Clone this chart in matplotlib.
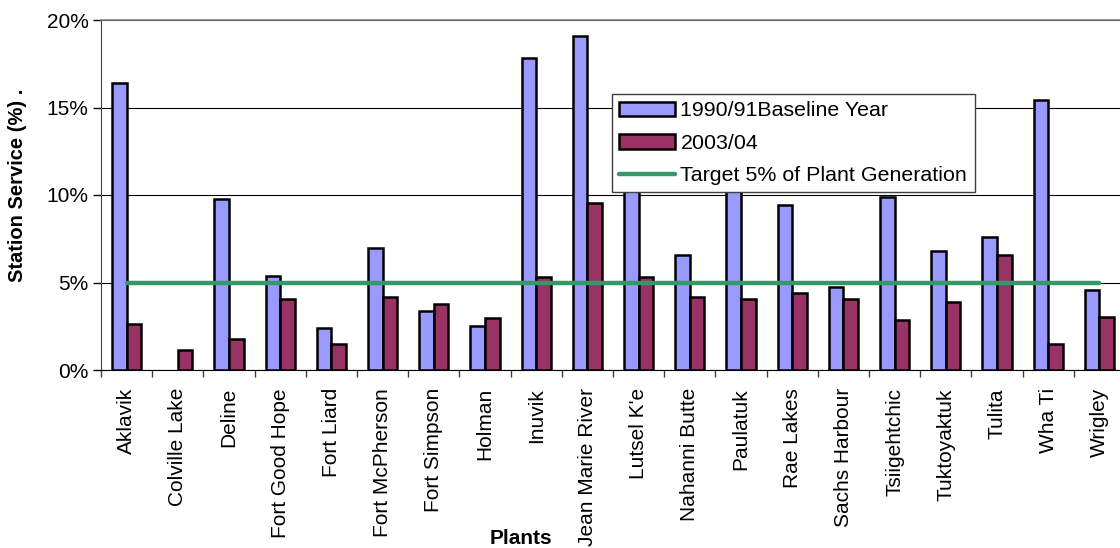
import matplotlib
matplotlib.use("Agg")
import matplotlib.pyplot as plt
import numpy as np
from matplotlib.ticker import FixedLocator, PercentFormatter

plt.rcParams['font.family'] = ['Liberation Sans', 'DejaVu Sans']

plants = ["Aklavik", "Colville Lake", "Deline", "Fort Good Hope", "Fort Liard",
          "Fort McPherson", "Fort Simpson", "Holman", "Inuvik", "Jean Marie River",
          "Lutsel K'e", "Nahanni Butte", "Paulatuk", "Rae Lakes", "Sachs Harbour",
          "Tsiigehtchic", "Tuktoyaktuk", "Tulita", "Wha Ti", "Wrigley"]
# Colville Lake has no baseline-year figure
baseline_1990 = [16.4, np.nan, 9.8, 5.4, 2.4, 7.0, 3.35, 2.5, 17.85, 19.1,
                 11.0, 6.55, 11.5, 9.45, 4.75, 9.9, 6.8, 7.6, 15.45, 4.55]
year_2003 = [2.65, 1.15, 1.75, 4.05, 1.5, 4.15, 3.75, 3.0, 5.3, 9.55,
             5.3, 4.2, 4.05, 4.4, 4.05, 2.85, 3.9, 6.55, 1.5, 3.05]
target = [5.0] * len(plants)

fig = plt.figure(figsize=(11.2, 5.48), dpi=100)
ax = fig.add_axes([101 / 1120, 178 / 548, 1024 / 1120, 350 / 548])

x = np.arange(len(plants))
w = 0.285
b1 = ax.bar(x - w / 2, baseline_1990, width=w, color="#9999FF", edgecolor="black",
            linewidth=1.8, label="1990/91Baseline Year", zorder=3)
b2 = ax.bar(x + w / 2, year_2003, width=w, color="#993366", edgecolor="black",
            linewidth=1.8, label="2003/04", zorder=3)
ln, = ax.plot(x, target, color="#339966", linewidth=3.2, solid_capstyle="round",
              label="Target 5% of Plant Generation", zorder=4)

ax.set_xlim(-0.5, len(plants) - 0.5)
ax.set_ylim(0, 20)
ax.yaxis.set_major_locator(FixedLocator([0, 5, 10, 15, 20]))
ax.yaxis.set_major_formatter(PercentFormatter(decimals=0))
ax.grid(axis="y", color="black", linewidth=0.8, zorder=0)

ax.set_xticks(x)
ax.set_xticklabels(plants, rotation=90, fontsize=15)
ax.set_xticks(np.arange(-0.5, len(plants), 1.0), minor=True)
ax.tick_params(axis="x", which="major", length=0, pad=13)
ax.tick_params(axis="x", which="minor", length=5, width=1, color="#404040", direction="out")
ax.tick_params(axis="y", labelsize=15, length=6, width=1, pad=3, color="black")

ax.spines["top"].set_color("#808080")
ax.spines["top"].set_linewidth(1.2)
ax.spines["left"].set_color("#404040")
ax.spines["bottom"].set_color("black")
ax.spines["right"].set_visible(False)

fig.text(18 / 1120, 1 - 185 / 548, "Station Service (%) .", rotation=90,
         ha="center", va="center", fontsize=14.5, fontweight="bold")
fig.text(521 / 1120, 1 - 539 / 548, "Plants", ha="center", va="center",
         fontsize=15, fontweight="bold")

leg = ax.legend(handles=[b1, b2, ln], loc="upper left",
                bbox_to_anchor=((612 - 101) / 1024, (370 - 94) / 350),
                prop={"size": 15.4}, frameon=True, fancybox=False, edgecolor="#404040",
                framealpha=1, borderpad=0.35, labelspacing=0.62,
                handlelength=2.6, handleheight=0.7, handletextpad=0.25,
                borderaxespad=0)
leg.get_frame().set_linewidth(1.0)
leg.set_zorder(10)

fig.savefig("out.png", dpi=100)
